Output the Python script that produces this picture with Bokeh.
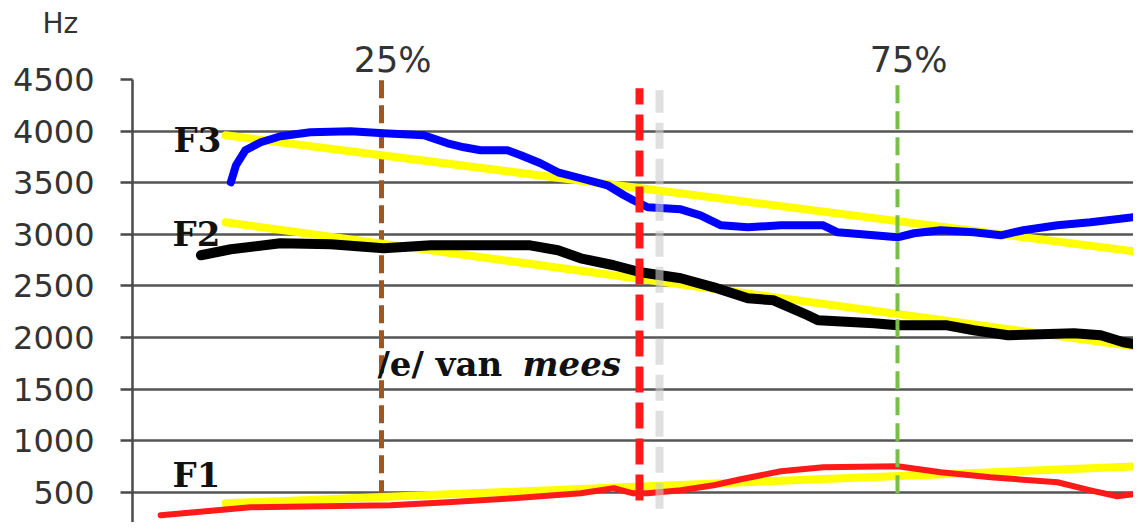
from bokeh.plotting import figure
from bokeh.models import Range1d, FixedTicker, Grid, Label, LinearAxis
from bokeh.embed import file_html
from bokeh.resources import INLINE

# ---------------- data (x = % of vowel duration, y = Hz) ----------------
f3_x = [10.4, 10.9, 11.8, 13.3, 15.2, 18.1, 22.0, 25.2, 29.1, 31.4, 33.0, 34.6,
        37.2, 38.5, 40.4, 42.1, 44.3, 46.9, 48.5, 49.4, 50.8, 54.0, 55.9, 57.9,
        60.5, 63.7, 67.8, 69.2, 72.7, 75.0, 76.6, 79.2, 82.4, 85.0, 87.2, 90.5,
        93.7, 98.6]
f3_y = [3504, 3669, 3814, 3892, 3950, 3988, 3998, 3979, 3959, 3882, 3843, 3814,
        3814, 3766, 3688, 3601, 3543, 3475, 3378, 3330, 3262, 3242, 3184, 3087,
        3068, 3087, 3087, 3019, 2990, 2971, 3010, 3039, 3019, 2990, 3039, 3087,
        3116, 3174]

f2_x = [7.5, 10.4, 15.2, 20.1, 25.2, 29.8, 39.4, 42.1, 44.3, 47.5, 50.1, 54.0,
        57.2, 60.5, 63.0, 66.3, 67.3, 72.7, 75.0, 79.8, 82.4, 85.7, 92.1, 94.7,
        96.9, 98.6]
f2_y = [2797, 2855, 2913, 2903, 2864, 2893, 2893, 2845, 2767, 2700, 2632, 2574,
        2486, 2380, 2360, 2215, 2167, 2138, 2118, 2118, 2070, 2021, 2041, 2021,
        1954, 1924]

f1_x = [3.6, 12.3, 25.9, 31.4, 37.8, 44.3, 47.5, 49.4, 50.8, 54.0, 57.2, 59.8,
        63.7, 67.8, 75.0, 79.2, 84.0, 90.5, 93.7, 96.3, 98.6]
f1_y = [277, 355, 374, 403, 442, 490, 539, 490, 490, 519, 568, 626,
        703, 742, 752, 694, 645, 597, 519, 461, 490]

# linear trend lines (yellow): start / end
trend_x = [9.9, 98.6]
trend_f3 = [3959, 2826]
trend_f2 = [3116, 1905]
trend_f1 = [393, 752]

# time markers (% of duration) and their vertical extent (Hz)
marker_pct = [25, 50, 75]
marker_lbl = ["25%", "", "75%"]
marker_bottom = [442, 420, 490]
marker_top = [4500, 4415, 4500]

y_ticks = [0, 500, 1000, 1500, 2000, 2500, 3000, 3500, 4000, 4500]

# ---------------- figure ----------------
p = figure(width=1133, height=522, output_backend="svg", toolbar_location=None,
           x_range=Range1d(0.87, 97.87), y_range=Range1d(207, 4500),
           x_axis_location=None,
           min_border_left=132, min_border_right=0, min_border_top=79,
           min_border_bottom=0)
p.outline_line_color = None
p.xgrid.visible = False
p.ygrid.ticker = FixedTicker(ticks=y_ticks[:-1])
p.ygrid.grid_line_color = "#555555"
p.ygrid.grid_line_width = 2.5
p.add_layout(Grid(dimension=1, ticker=FixedTicker(ticks=[y_ticks[-1]]),
                  grid_line_color="#a0a0a0", grid_line_width=2))

ax = p.yaxis[0]
ax.ticker = FixedTicker(ticks=y_ticks)
ax.axis_line_color = "#4a4a4a"
ax.axis_line_width = 2.5
ax.major_tick_line_color = "#4a4a4a"
ax.major_tick_line_width = 2.5
ax.major_tick_out = 12
ax.major_tick_in = 0
ax.minor_tick_line_color = None
ax.major_label_text_font = "DejaVu Sans"
ax.major_label_text_font_size = "32px"
ax.major_label_text_color = "#333333"
ax.major_label_standoff = 26

# percentage labels on an axis above the plot
nb = "\u00a0\u00a0"
top_ax = LinearAxis(ticker=FixedTicker(ticks=[m for m, t in zip(marker_pct, marker_lbl) if t]),
                    major_label_overrides={m: nb + t for m, t in zip(marker_pct, marker_lbl) if t},
                    axis_line_color=None, major_tick_line_color=None, minor_tick_line_color=None,
                    major_tick_out=0, major_tick_in=0,
                    major_label_text_font="DejaVu Sans", major_label_text_font_size="35px",
                    major_label_text_color="#333333", major_label_standoff=0)
p.add_layout(top_ax, "above")

# "Hz" unit label as title
p.title.text = "Hz"
p.title.text_font = "DejaVu Sans"
p.title.text_font_size = "28px"
p.title.text_font_style = "normal"
p.title.text_color = "#333333"
p.title.align = "left"
p.title.offset = -90
p.title.standoff = -7

# brown 25% marker (behind the formant tracks)
p.segment(x0=[marker_pct[0]], y0=[marker_bottom[0]], x1=[marker_pct[0]], y1=[marker_top[0]],
          line_color="#a0561e", line_width=5, line_dash="18 7")

# yellow trend lines
for ty in (trend_f3, trend_f2, trend_f1):
    p.line(trend_x, ty, line_color="#ffff00", line_width=8, line_cap="round")

# formant tracks
p.line(f3_x, f3_y, line_color="#0000ff", line_width=8, line_join="round", line_cap="round")
p.line(f2_x, f2_y, line_color="#000000", line_width=10, line_join="round", line_cap="round")
p.line(f1_x, f1_y, line_color="#ff1a1a", line_width=6, line_join="round", line_cap="round")

# green 75% marker
p.segment(x0=[marker_pct[2]], y0=[marker_bottom[2]], x1=[marker_pct[2]], y1=[marker_top[2]],
          line_color="#77c043", line_width=4, line_dash="18 8")

# red 50% marker with soft shadow
shadow_dx = 20 / 10.32
p.segment(x0=[marker_pct[1] + shadow_dx], y0=[marker_bottom[1] - 80], x1=[marker_pct[1] + shadow_dx],
          y1=[marker_top[1] - 20], line_color="#cccccc", line_alpha=0.6, line_width=8,
          line_dash="26 10")
p.segment(x0=[marker_pct[1]], y0=[marker_bottom[1]], x1=[marker_pct[1]], y1=[marker_top[1]],
          line_color="#ff1a1a", line_width=8, line_dash="26 10")

# text labels
serif = "DejaVu Serif"
def lab(x, y, text, style="bold", **kw):
    p.add_layout(Label(x=x, y=y, text=text, text_font=serif, text_font_style=style,
                       text_font_size="34px", text_color="#111111",
                       text_baseline="alphabetic", y_offset=13, **kw))

lab(4.85, 3785, "F3")
lab(4.75, 2874, "F2")
lab(4.75, 539, "F1")
lab(24.6, 1614, "/e/ van")
lab(48.2, 1614, "mees", style="bold italic", text_align="right")

open("out.html", "w").write(file_html(p, INLINE))
